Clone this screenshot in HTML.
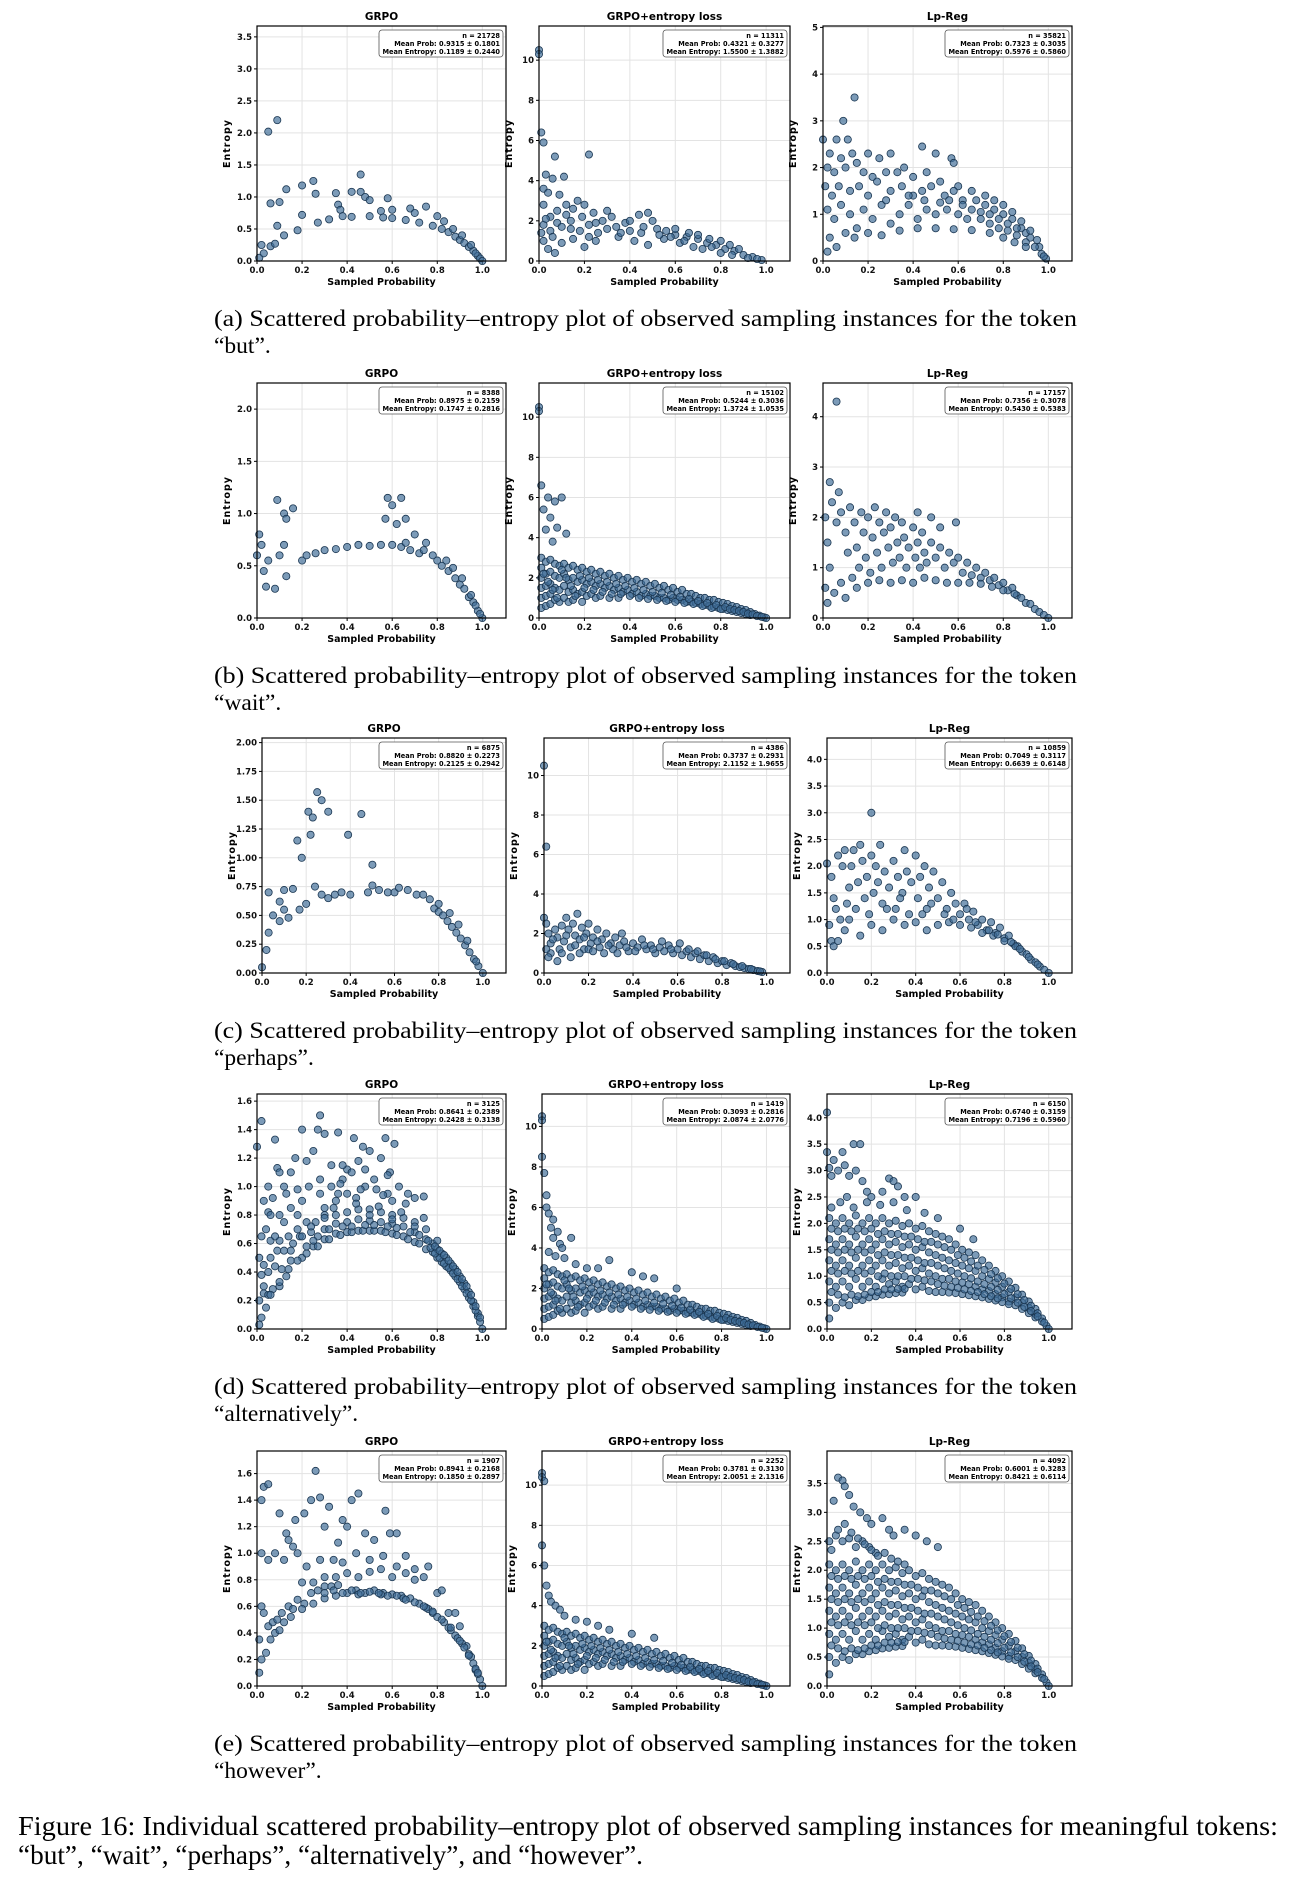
<!DOCTYPE html>
<html><head><meta charset="utf-8">
<style>
html,body{margin:0;padding:0;background:#fff;}
svg{display:block;}
</style></head>
<body>
<svg id="fig" width="1296" height="1885" viewBox="0 0 1296 1885" xmlns="http://www.w3.org/2000/svg"></svg>
<script>
// Data: flat pairs [probability*100, entropy*100, ...]
const butGrpo=[5,202,9,220,6,90,10,92,13,112,20,118,25,125,26,105,35,106,36,88,37,80,42,108,46,108,46,135,48,100,50,95,58,98,55,78,60,80,68,82,75,85,70,75,2,25,6,23,8,27,9,55,12,40,18,48,20,72,27,60,32,65,38,70,42,69,50,70,56,68,60,67,66,64,72,60,78,55,82,50,85,45,88,38,90,33,92,28,94,22,96,16,98,8,99,4,100,0,1,5,3,12,83,62,87,50,80,70,91,40,95,25,97,12];
const butEnt=[0,1050,0,1030,1,640,2,590,7,520,22,530,3,430,6,410,11,420,2,360,4,340,9,330,17,300,20,280,2,280,5,220,8,250,12,230,15,260,19,220,24,240,28,200,32,220,38,190,44,230,48,240,50,200,2,180,5,150,8,190,10,170,14,160,18,150,22,180,26,140,30,160,34,170,40,150,45,140,52,160,56,150,60,130,65,120,70,110,74,90,78,80,82,60,86,50,90,30,94,20,98,5,2,100,4,60,7,40,10,90,15,110,20,70,25,100,35,120,42,100,48,80,55,110,62,90,68,70,72,60,80,40,85,30,92,15,60,160,66,140,70,130,75,110,80,100,84,80,88,60,30,250,12,280,25,190,36,140,46,170,58,120,1,140,3,210,6,120,14,200,22,120,40,200,53,130,64,100,76,70,96,10];
const butLp=[14,350,9,300,0,260,6,260,11,260,3,230,8,220,13,230,20,230,25,220,30,230,44,245,50,230,57,220,58,210,2,200,5,190,10,200,15,210,18,190,22,180,28,190,33,190,36,200,40,180,46,190,52,170,60,160,66,150,1,160,4,140,7,160,12,150,16,160,20,140,24,170,30,150,35,160,40,140,44,150,48,160,54,140,58,150,62,130,68,130,72,120,76,110,80,100,84,90,88,70,92,50,96,30,99,5,2,110,5,90,8,120,12,100,15,70,18,110,22,90,26,120,30,80,34,100,38,120,42,90,46,110,50,100,55,110,60,100,64,90,70,90,74,80,78,70,82,65,86,55,90,40,94,30,97,15,3,50,6,30,10,60,14,50,20,60,26,55,34,65,42,70,50,70,58,68,66,66,74,60,80,50,85,40,90,30,2,20,62,120,66,110,70,105,74,100,78,90,82,80,86,70,90,60,72,140,76,130,80,120,84,105,88,85,92,65,95,45,52,125,56,130,45,130,38,140,28,130,98,10];
const waitGrpo=[0,60,1,80,2,70,5,55,3,45,4,30,8,28,9,113,12,100,13,95,16,105,10,60,13,40,12,70,20,55,22,60,26,62,30,65,35,66,40,68,45,70,50,69,55,70,58,115,60,108,64,115,57,95,62,90,66,95,60,70,64,68,68,65,72,62,70,80,75,72,78,60,80,55,82,50,85,45,88,38,90,32,92,28,94,20,96,15,98,7,100,0,84,55,87,48,91,38,95,22,97,12,99,4,66,72,74,65];
const waitEnt=[0,1050,0,1030,1,660,4,600,7,580,10,600,2,540,5,500,8,450,12,420,3,440,6,380,1,300,1,250,1,200,1,150,1,100,1,50,3,280,3,220,3,160,3,110,3,60,5,290,5,230,5,170,5,120,5,70,7,270,7,210,7,150,7,90,9,260,9,200,9,140,9,80,11,270,11,220,11,160,11,100,13,250,13,190,13,130,13,80,15,260,15,200,15,140,15,90,17,240,17,180,17,120,19,250,19,190,19,130,19,80,21,230,21,170,21,110,23,240,23,180,23,120,25,220,25,160,25,100,27,230,27,170,27,110,29,210,29,150,31,220,31,160,31,100,33,200,33,140,35,210,35,150,35,100,37,190,37,130,39,200,39,140,41,180,41,120,43,190,43,130,45,170,45,110,47,180,47,120,49,160,49,110,51,170,51,110,53,150,53,100,55,160,55,100,57,140,57,90,59,150,59,100,61,130,61,90,63,140,63,90,65,120,65,80,67,120,67,80,69,110,69,75,71,100,71,70,73,100,73,65,75,90,75,60,77,90,77,55,79,80,79,50,81,75,81,45,83,70,83,40,85,60,85,35,87,55,87,30,89,45,89,25,91,40,91,20,93,30,93,15,95,20,97,12,99,4,100,0];
const waitEnt2=[2,220,4,180,6,140,8,100,10,240,12,200,14,160,16,110,18,210,20,150,22,200,24,140,26,190,28,130,30,180,32,120,34,170,36,120,38,160,40,110,42,150,44,100,46,140,48,95,50,130,52,90,54,125,56,85,58,115,60,80,62,105,64,75,66,95,68,70,70,85,72,60,74,75,76,50,78,65,80,45,82,55,84,45,86,40,88,35,90,30,92,22,94,18,96,10,98,6];
const waitLp=[6,430,3,270,7,250,1,200,2,150,3,100,1,60,2,30,4,230,6,190,8,210,10,170,11,130,12,220,14,190,15,140,16,100,17,210,18,170,19,120,20,200,21,90,22,160,23,220,24,130,25,190,26,100,27,170,28,210,29,140,30,180,31,110,32,200,33,150,34,120,35,190,36,160,37,100,38,140,40,180,41,120,42,150,43,100,44,170,45,130,46,110,48,150,50,120,52,140,54,100,56,130,58,110,60,120,62,90,64,110,66,85,68,100,70,80,72,90,74,75,76,80,78,65,80,70,82,55,84,60,86,45,88,40,90,30,92,28,94,18,96,12,98,6,100,0,5,50,8,70,10,40,13,80,15,60,20,70,25,75,30,70,35,75,40,70,45,80,50,75,55,70,60,70,65,70,70,68,75,62,80,55,85,48,59,190,48,200,42,210,52,180];
const perhapsGrpo=[21,140,23,135,25,157,27,150,30,140,39,120,45,138,18,100,16,115,22,120,3,70,10,72,14,73,2,20,3,35,5,50,8,45,10,55,12,48,17,55,20,60,24,75,27,68,30,65,33,68,36,70,40,68,48,70,50,76,50,94,53,72,57,70,60,70,62,74,66,72,70,68,73,68,76,64,78,56,80,53,82,50,84,45,86,40,88,35,90,30,92,24,94,18,96,12,98,6,100,0,80,60,85,52,89,42,93,28,97,10,0,5,8,62];
const perhapsEnt=[0,1050,1,640,0,280,1,250,2,200,3,150,3,100,5,220,6,180,7,120,8,240,9,160,10,280,11,220,12,130,13,250,14,190,15,300,16,170,17,230,18,120,19,200,20,250,21,150,22,180,24,220,25,130,26,170,28,200,30,150,31,120,32,180,34,140,36,160,38,110,40,150,42,130,44,170,46,120,48,140,50,100,52,130,54,110,56,140,58,100,60,120,62,90,64,110,66,80,68,100,70,70,72,90,74,60,76,80,78,50,80,60,82,40,84,50,86,35,88,30,90,25,92,20,94,15,96,10,98,5,1,120,2,80,4,170,6,60,8,100,10,190,12,80,14,140,16,100,18,180,20,120,22,110,24,160,27,100,29,140,33,100,35,200,37,130,41,110,45,140,49,120,53,160,57,120,61,150,65,120,69,110,73,90,77,70,81,60,85,45,89,35,93,20,97,8];
const perhapsLp=[20,300,0,205,2,180,3,140,4,120,1,90,2,60,3,50,5,220,7,200,8,230,10,160,11,200,12,230,13,120,14,170,15,240,16,210,17,140,18,180,19,110,20,220,21,150,22,200,23,170,24,240,25,130,26,190,28,160,30,210,31,120,32,180,34,150,35,230,36,190,37,110,38,170,40,220,41,140,42,180,44,200,45,120,46,160,48,190,50,140,52,170,54,120,56,150,58,130,60,110,62,130,64,100,66,115,68,90,70,100,72,80,74,95,76,75,78,85,80,65,82,70,84,55,86,50,88,40,90,35,92,25,94,20,96,12,98,6,100,0,5,60,8,80,10,100,15,70,20,90,25,80,30,100,35,90,40,95,45,80,50,90,55,95,60,90,65,85,70,75,75,70,80,60,85,50,6,100,9,130,27,120,33,140,43,110,47,130,53,110,57,100,63,120,67,95,73,80,77,72,83,58,87,45,91,30,95,16];
const altGrpo=[0,128,2,146,9,113,8,133,20,140,27,140,28,150,30,137,33,115,36,138,40,112,43,134,47,128,50,125,52,105,57,134,59,110,61,130,55,120,45,118,38,105,25,125,22,118,17,120,15,110,12,100,10,110,5,100,3,90,7,92,13,95,18,98,23,100,28,95,33,100,37,102,42,110,48,100,53,98,58,95,63,100,67,95,70,92,74,93,60,90,44,92,40,95,35,90,30,85,20,90,15,85,10,80,5,82,2,65,6,62,10,62,14,65,18,70,22,75,26,75,30,80,3,45,6,50,9,55,12,55,16,60,19,65,24,68,2,38,5,40,8,44,11,42,15,48,20,50,25,58,1,20,3,25,5,24,7,28,10,30,13,37,2,8,4,15,1,3,30,63,30,70,30,78,35,67,35,74,35,80,40,68,40,75,40,82,45,69,45,77,45,84,50,69,50,76,50,84,55,69,55,75,55,82,60,67,60,74,60,80,65,65,65,72,65,78,70,61,70,68,70,75,75,56,75,63,75,70,78,54,78,60,80,50,80,56,80,62,82,47,82,53,84,44,84,50,86,41,86,46,88,37,88,42,90,33,90,37,92,28,92,32,94,22,94,26,96,16,96,19,98,9,98,11,99,5,100,0,97,13,95,20,93,25,91,30,89,35,87,39,85,43,83,46,81,50,79,53,77,57,72,60,67,63,62,66,57,68,52,69,47,69,42,68,37,66,32,63,27,58,22,53,18,48,14,42,10,33,6,24,27,65,25,62,22,58];
const altGrpo2=[32,70,38,72,42,72,48,73,52,73,58,72,62,71,68,68,72,66,76,62,79,58,81,55,83,52,85,48,87,44,89,40,91,35,93,30,95,24,97,16,99,8,34,85,44,88,54,86,64,82,74,78,36,95,46,98,56,94,66,88,20,65,15,55,24,72,18,80,8,65,12,75,28,105,38,115,48,112,58,108,4,70,6,80,1,50,3,30,50,80,60,77,70,72];
const altEnt=[0,1050,0,1030,0,850,1,770,2,660,2,600,3,570,4,500,5,540,7,480,5,450,8,420,9,400,13,450,3,380,6,360,10,350,15,320,20,300,25,300,30,340,40,280,45,260,50,250,60,200,1,300,1,250,1,200,1,150,1,100,1,50,3,280,3,220,3,160,3,110,3,60,5,290,5,230,5,170,5,120,5,70,7,270,7,210,7,150,7,90,9,260,9,200,9,140,9,80,11,270,11,220,11,160,11,100,13,250,13,190,13,130,13,80,15,260,15,200,15,140,15,90,17,240,17,180,17,120,19,250,19,190,19,130,19,80,21,230,21,170,21,110,23,240,23,180,23,120,25,220,25,160,25,100,27,230,27,170,27,110,29,210,29,150,31,220,31,160,31,100,33,200,33,140,35,210,35,150,35,100,37,190,37,130,39,200,39,140,41,180,41,120,43,190,43,130,45,170,45,110,47,180,47,120,49,160,49,110,51,170,51,110,53,150,53,100,55,160,55,100,57,140,57,90,59,150,59,100,61,130,61,90,63,140,63,90,65,120,65,80,67,120,67,80,69,110,69,75,71,100,71,70,73,100,73,65,75,90,75,60,77,90,77,55,79,80,79,50,81,75,81,45,83,70,83,40,85,60,85,35,87,55,87,30,89,45,89,25,91,40,91,20,93,30,93,15,95,20,97,12,99,4,100,0];
const altEnt2=[2,220,4,180,6,140,8,100,10,240,12,200,14,160,16,110,18,210,20,150,22,200,24,140,26,190,28,130,30,180,32,120,34,170,36,120,38,160,40,110,42,150,44,100,46,140,48,95,50,130,52,90,54,125,56,85,58,115,60,80,62,105,64,75,66,95,68,70,70,85,72,60,74,75,76,50,78,65,80,45,82,55,84,45,86,40,88,35,90,30,92,22,94,18,96,10,98,6];
const altLp=[0,410,0,335,1,305,2,290,3,320,5,300,7,335,8,310,10,290,12,350,15,350,13,300,16,280,18,260,20,250,28,285,30,280,25,260,35,250,40,250,32,270,1,210,1,170,1,130,1,90,1,50,1,20,4,200,4,160,4,120,4,80,4,40,7,210,7,170,7,130,7,90,7,50,10,200,10,160,10,120,10,80,10,45,13,215,13,175,13,135,13,95,13,55,16,200,16,160,16,120,16,80,16,55,19,210,19,170,19,130,19,90,19,60,22,200,22,160,22,120,22,80,22,62,25,210,25,170,25,130,25,95,25,65,28,200,28,160,28,120,28,85,28,66,31,205,31,165,31,125,31,90,31,68,34,195,34,155,34,115,34,80,34,69,37,200,37,160,37,120,37,85,40,190,40,150,40,110,40,75,43,195,43,155,43,115,43,80,46,185,46,145,46,105,46,72,49,180,49,140,49,100,49,70,52,175,52,135,52,95,52,70,55,170,55,130,55,95,55,69,58,160,58,125,58,90,58,68,61,150,61,120,61,88,61,66,64,145,64,115,64,85,64,64,67,140,67,110,67,80,67,62,70,130,70,100,70,75,70,60,73,120,73,95,73,72,73,57,76,110,76,88,76,66,76,54,79,100,79,80,79,60,79,51,82,90,82,70,82,52,82,47,85,78,85,60,85,45,88,65,88,50,88,38,91,52,91,40,91,30,94,38,94,28,94,22,97,20,97,14,99,6,100,0,2,230,6,240,9,250,12,230,18,240,24,235,30,240,36,225,44,220,50,210,60,190,66,170];
const altLp2=[2,190,2,150,2,110,2,70,5,185,5,145,5,105,5,65,8,190,8,150,8,110,8,60,11,185,11,145,11,105,11,65,14,190,14,150,14,110,14,62,17,185,17,145,17,105,17,65,20,190,20,150,20,110,20,70,23,180,23,140,23,100,23,70,26,185,26,145,26,105,26,75,29,180,29,140,29,100,29,75,32,180,32,140,32,100,32,76,35,175,35,135,35,100,35,76,38,175,38,135,38,95,41,170,41,130,41,95,44,165,44,125,44,92,47,165,47,125,47,90,50,160,50,120,50,85,53,155,53,115,53,82,56,150,56,110,56,80,59,140,59,105,59,78,62,135,62,100,62,75,65,128,65,96,65,72,68,120,68,90,68,70,71,112,71,85,71,66,74,104,74,80,74,62,77,96,77,74,77,58,80,86,80,66,83,76,83,58,86,66,86,50,89,55,89,42,92,44,92,34,95,30,95,24,98,12];
const howGrpo=[3,150,5,152,2,140,10,130,13,115,14,110,16,105,17,125,21,130,24,140,26,162,28,142,30,120,32,135,36,108,38,125,40,120,42,140,45,145,48,115,52,110,57,132,59,115,56,98,62,115,66,98,70,88,74,82,76,90,80,70,82,72,85,55,88,55,90,45,93,30,95,22,97,12,99,5,100,0,2,100,5,95,8,100,12,95,18,100,22,90,28,95,34,95,38,93,44,100,50,95,55,88,62,90,66,85,20,78,25,78,30,82,35,82,40,85,45,82,50,86,60,82,70,80,1,35,2,60,3,55,5,45,7,48,9,50,11,55,14,60,16,58,18,65,21,62,24,70,27,72,30,75,33,75,36,76,40,70,44,72,48,70,52,72,56,70,60,69,64,68,68,66,72,62,76,58,78,55,80,52,83,48,86,42,88,38,91,32,94,24,96,17,98,9,1,10,2,20,4,25,6,35,8,40,10,42,12,48,15,52,20,58,25,62,30,66,35,68,45,69,55,69,65,66,75,59,85,44,89,36,92,29,97,13];
const howGrpo2=[30,70,34,72,38,70,42,72,46,70,50,71,54,70,58,68,62,68,66,65,70,63,74,60,78,56,82,50,86,44,90,34,94,23,98,10];
const howEnt=[0,1060,0,1040,1,1020,0,700,1,600,2,500,3,450,4,420,6,400,8,380,10,350,15,330,20,320,25,300,30,280,40,260,50,240,1,300,1,250,1,200,1,150,1,100,1,50,3,280,3,220,3,160,3,110,3,60,5,290,5,230,5,170,5,120,5,70,7,270,7,210,7,150,7,90,9,260,9,200,9,140,9,80,11,270,11,220,11,160,11,100,13,250,13,190,13,130,13,80,15,260,15,200,15,140,15,90,17,240,17,180,17,120,19,250,19,190,19,130,19,80,21,230,21,170,21,110,23,240,23,180,23,120,25,220,25,160,25,100,27,230,27,170,27,110,29,210,29,150,31,220,31,160,31,100,33,200,33,140,35,210,35,150,35,100,37,190,37,130,39,200,39,140,41,180,41,120,43,190,43,130,45,170,45,110,47,180,47,120,49,160,49,110,51,170,51,110,53,150,53,100,55,160,55,100,57,140,57,90,59,150,59,100,61,130,61,90,63,140,63,90,65,120,65,80,67,120,67,80,69,110,69,75,71,100,71,70,73,100,73,65,75,90,75,60,77,90,77,55,79,80,79,50,81,75,81,45,83,70,83,40,85,60,85,35,87,55,87,30,89,45,89,25,91,40,91,20,93,30,93,15,95,20,97,12,99,4,100,0];
const howEnt2=[2,220,4,180,6,140,8,100,10,240,12,200,14,160,16,110,18,210,20,150,22,200,24,140,26,190,28,130,30,180,32,120,34,170,36,120,38,160,40,110,42,150,44,100,46,140,48,95,50,130,52,90,54,125,56,85,58,115,60,80,62,105,64,75,66,95,68,70,70,85,72,60,74,75,76,50,78,65,80,45,82,55,84,45,86,40,88,35,90,30,92,22,94,18,96,10,98,6];
const howLp=[5,360,7,355,8,345,10,330,3,320,12,310,15,300,18,290,20,280,25,290,28,270,30,260,35,270,40,260,45,250,50,240,1,250,4,260,7,250,10,255,13,240,16,250,19,240,22,230,1,210,1,170,1,130,1,90,1,50,1,20,4,200,4,160,4,120,4,80,4,40,7,210,7,170,7,130,7,90,7,50,10,200,10,160,10,120,10,80,10,45,13,215,13,175,13,135,13,95,13,55,16,200,16,160,16,120,16,80,16,55,19,210,19,170,19,130,19,90,19,60,22,200,22,160,22,120,22,80,22,62,25,210,25,170,25,130,25,95,25,65,28,200,28,160,28,120,28,85,28,66,31,205,31,165,31,125,31,90,31,68,34,195,34,155,34,115,34,80,34,69,37,200,37,160,37,120,37,85,40,190,40,150,40,110,40,75,43,195,43,155,43,115,43,80,46,185,46,145,46,105,46,72,49,180,49,140,49,100,49,70,52,175,52,135,52,95,52,70,55,170,55,130,55,95,55,69,58,160,58,125,58,90,58,68,61,150,61,120,61,88,61,66,64,145,64,115,64,85,64,64,67,140,67,110,67,80,67,62,70,130,70,100,70,75,70,60,73,120,73,95,73,72,73,57,76,110,76,88,76,66,76,54,79,100,79,80,79,60,79,51,82,90,82,70,82,52,82,47,85,78,85,60,85,45,88,65,88,50,88,38,91,52,91,40,91,30,94,38,94,28,94,22,97,20,97,14,99,6,100,0];
const howLp2=[2,190,2,150,2,110,2,70,5,185,5,145,5,105,5,65,8,190,8,150,8,110,8,60,11,185,11,145,11,105,11,65,14,190,14,150,14,110,14,62,17,185,17,145,17,105,17,65,20,190,20,150,20,110,20,70,23,180,23,140,23,100,23,70,26,185,26,145,26,105,26,75,29,180,29,140,29,100,29,75,32,180,32,140,32,100,32,76,35,175,35,135,35,100,35,76,38,175,38,135,38,95,41,170,41,130,41,95,44,165,44,125,44,92,47,165,47,125,47,90,50,160,50,120,50,85,53,155,53,115,53,82,56,150,56,110,56,80,59,140,59,105,59,78,62,135,62,100,62,75,65,128,65,96,65,72,68,120,68,90,68,70,71,112,71,85,71,66,74,104,74,80,74,62,77,96,77,74,77,58,80,86,80,66,83,76,83,58,86,66,86,50,89,55,89,42,92,44,92,34,95,30,95,24,98,12,2,235,5,270,8,280,11,265,14,255,17,245,20,235,23,225,26,230,29,220,32,215,35,210];

const xTicks=[0,0.2,0.4,0.6,0.8,1.0];
const xTickLabels=["0.0","0.2","0.4","0.6","0.8","1.0"];
const titles=["GRPO","GRPO+entropy loss","Lp-Reg"];
const rowTokens=["but","wait","perhaps","alternatively","however"];
const rowLetters=["a","b","c","d","e"];
const statsN=[["21728","11311","35821"],["8388","15102","17157"],["6875","4386","10859"],["3125","1419","6150"],["1907","2252","4092"]];
const statsProb=[["0.9315 ± 0.1801","0.4321 ± 0.3277","0.7323 ± 0.3035"],["0.8975 ± 0.2159","0.5244 ± 0.3036","0.7356 ± 0.3078"],["0.8820 ± 0.2273","0.3737 ± 0.2931","0.7049 ± 0.3117"],["0.8641 ± 0.2389","0.3093 ± 0.2816","0.6740 ± 0.3159"],["0.8941 ± 0.2168","0.3781 ± 0.3130","0.6001 ± 0.3283"]];
const statsEnt=[["0.1189 ± 0.2440","1.5500 ± 1.3882","0.5976 ± 0.5860"],["0.1747 ± 0.2816","1.3724 ± 1.0535","0.5430 ± 0.5383"],["0.2125 ± 0.2942","2.1152 ± 1.9655","0.6639 ± 0.6148"],["0.2428 ± 0.3138","2.0874 ± 2.0776","0.7196 ± 0.5960"],["0.1850 ± 0.2897","2.0051 ± 2.1316","0.8421 ± 0.6114"]];
const rowData=[[butGrpo,butEnt,butLp],[waitGrpo,waitEnt.concat(waitEnt2),waitLp],[perhapsGrpo,perhapsEnt,perhapsLp],[altGrpo.concat(altGrpo2),altEnt.concat(altEnt2),altLp.concat(altLp2)],[howGrpo.concat(howGrpo2),howEnt.concat(howEnt2),howLp.concat(howLp2)]];
const yMax=[[3.67,11.7,5.03],[2.25,11.7,4.67],[2.04,11.9,4.4],[1.65,11.6,4.45],[1.77,11.7,4.06]];
const yTickVals=[
 [[0,0.5,1,1.5,2,2.5,3,3.5],[0,2,4,6,8,10],[0,1,2,3,4,5]],
 [[0,0.5,1,1.5,2],[0,2,4,6,8,10],[0,1,2,3,4]],
 [[0,0.25,0.5,0.75,1,1.25,1.5,1.75,2],[0,2,4,6,8,10],[0,0.5,1,1.5,2,2.5,3,3.5,4]],
 [[0,0.2,0.4,0.6,0.8,1,1.2,1.4,1.6],[0,2,4,6,8,10],[0,0.5,1,1.5,2,2.5,3,3.5,4]],
 [[0,0.2,0.4,0.6,0.8,1,1.2,1.4,1.6],[0,2,4,6,8,10],[0,0.5,1,1.5,2,2.5,3,3.5]]];
const yDec=[[1,0,0],[1,0,0],[2,0,1],[1,0,1],[1,0,1]];

const NS="http://www.w3.org/2000/svg";
const svg=document.getElementById('fig');
function mk(tag,attrs,parent,text){const e=document.createElementNS(NS,tag);for(const k in attrs)e.setAttribute(k,attrs[k]);if(text!==undefined)e.textContent=text;(parent||svg).appendChild(e);return e;}

const rowTops=[26,383,738,1094,1451];
const colLeft=[[257,539,823],[257,539,823],[262,544,827],[257,542,827],[257,542,827]];
const colRight=[506,790,1072];
const H=235;
const TF='"DejaVu Sans","Liberation Sans",sans-serif';

for(let r=0;r<5;r++){
 for(let c=0;c<3;c++){
  const L=colLeft[r][c],R=colRight[c],T=rowTops[r],B=T+H,W=R-L;
  const xs=v=>L+v/1.105*W;
  const ys=v=>B-v/yMax[r][c]*H;
  const g=mk('g',{});
  
  
  xTicks.forEach((v,i)=>{
   const ln=mk('line',{x1:xs(v),x2:xs(v),y1:T,y2:B,stroke:'#e3e3e3','stroke-width':1},g);
   
   
   mk('line',{x1:xs(v),x2:xs(v),y1:B,y2:B+3,stroke:'#000','stroke-width':1},g);
   const t=mk('text',{x:xs(v),y:B+12,'text-anchor':'middle','font-family':TF,'font-size':8.5,'font-weight':'bold',fill:'#111'},g,xTickLabels[i]);
   
   
  });
  yTickVals[r][c].forEach(v=>{
   const ln=mk('line',{x1:L,x2:R,y1:ys(v),y2:ys(v),stroke:'#e3e3e3','stroke-width':1},g);
   
   
   mk('line',{x1:L-3,x2:L,y1:ys(v),y2:ys(v),stroke:'#000','stroke-width':1},g);
   const t=mk('text',{x:L-5,y:ys(v)+3,'text-anchor':'end','font-family':TF,'font-size':8.5,'font-weight':'bold',fill:'#111'},g,v.toFixed(yDec[r][c]));
   
   
  });
  const d=rowData[r][c];
  for(let i=0;i<d.length;i+=2){
   const pt=mk('circle',{cx:xs(d[i]/100),cy:ys(d[i+1]/100),r:3.6,fill:'rgba(62,108,150,0.68)',stroke:'#1a3651','stroke-width':0.8},g);
   
   
  }
  const fr=mk('rect',{x:L,y:T,width:W,height:H,fill:'none',stroke:'#000','stroke-width':1.2},g);
  
  
  const tt=mk('text',{x:(L+R)/2,y:T-6,'text-anchor':'middle','font-family':TF,'font-size':10.5,'font-weight':'bold',fill:'#000'},g,titles[c]);
  
  
  const xl=mk('text',{x:(L+R)/2,y:B+24,'text-anchor':'middle','font-family':TF,'font-size':9.5,'font-weight':'bold',fill:'#000'},g,'Sampled Probability');
  
  
  const yl=mk('text',{x:0,y:0,'text-anchor':'middle','font-family':TF,'font-size':9.5,'font-weight':'bold','letter-spacing':1,fill:'#000',transform:`translate(${L-27},${(T+B)/2}) rotate(-90)`},g,'Entropy');
  
  
  const bx=mk('rect',{x:R-127,y:T+4,width:124,height:27,rx:3,fill:'#fff',stroke:'#555','stroke-width':0.8},g);
  
  
  const lines=['n = '+statsN[r][c],'Mean Prob: '+statsProb[r][c],'Mean Entropy: '+statsEnt[r][c]];
  lines.forEach((s,i)=>{
   const st=mk('text',{x:R-6,y:T+12+i*8,'text-anchor':'end','font-family':TF,'font-size':6.6,'font-weight':'bold',fill:'#000'},g,s);
   
   
  });
 }
 const cy=rowTops[r]+292;
 const c1=mk('text',{x:214,y:cy+8,'font-family':'"Liberation Serif",serif','font-size':23.5,fill:'#000',textLength:863,lengthAdjust:'spacingAndGlyphs'},svg,'('+rowLetters[r]+') Scattered probability–entropy plot of observed sampling instances for the token');
 
 
 const c2=mk('text',{x:214,y:cy+35,'font-family':'"Liberation Serif",serif','font-size':23.5,fill:'#000'},svg,'“'+rowTokens[r]+'”.');
 
 
}
const f1=mk('text',{x:18,y:1835,'font-family':'"Liberation Serif",serif','font-size':27,fill:'#000',textLength:1260,lengthAdjust:'spacingAndGlyphs'},svg,'Figure 16: Individual scattered probability–entropy plot of observed sampling instances for meaningful tokens:');


const f2=mk('text',{x:18,y:1864,'font-family':'"Liberation Serif",serif','font-size':27,fill:'#000',textLength:625,lengthAdjust:'spacingAndGlyphs'},svg,'“but”, “wait”, “perhaps”, “alternatively”, and “however”.');


</script>
</body></html>
